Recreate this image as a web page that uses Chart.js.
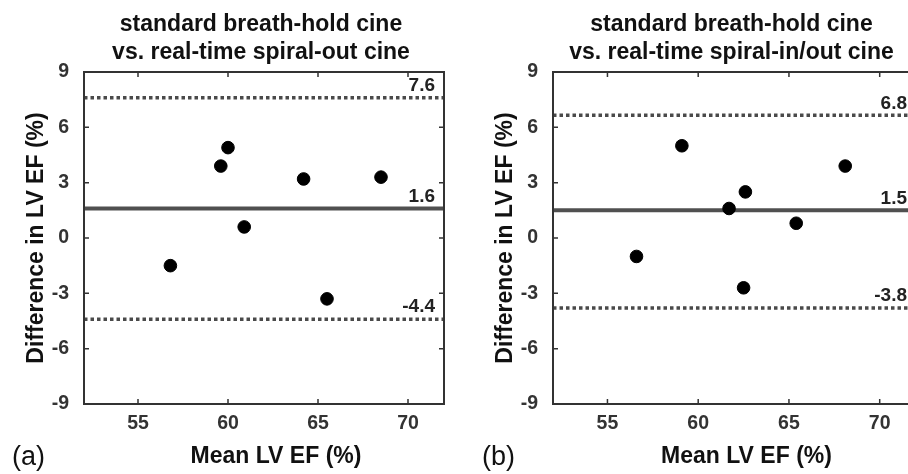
<!DOCTYPE html>
<html>
<head>
<meta charset="utf-8">
<script src="https://cdn.jsdelivr.net/npm/chart.js@4.4.1/dist/chart.umd.min.js"></script>
<style>
  html, body { margin: 0; padding: 0; background: #fff; overflow: hidden; }
  body { width: 908px; height: 474px; position: relative; }
  .panel { position: absolute; top: 0; height: 474px; }
  #panelA { left: 0; width: 454px; }
  #panelB { left: 469px; width: 457px; }
</style>
</head>
<body>
<div class="panel" id="panelA"><canvas id="chartA"></canvas></div>
<div class="panel" id="panelB"><canvas id="chartB"></canvas></div>
<script>
// 데이터
const meanA = [59.6, 60.0, 64.2, 68.5, 60.9, 56.8, 65.5];
const diffA = [3.9, 4.9, 3.2, 3.3, 0.6, -1.5, -3.3];
const linesA = [7.6, 1.6, -4.4];
const lineLabelsA = ['7.6', '1.6', '-4.4'];

const meanB = [59.1, 61.7, 62.6, 65.4, 68.1, 56.6, 62.5];
const diffB = [5.0, 1.6, 2.5, 0.8, 3.9, -1.0, -2.7];
const linesB = [6.65, 1.5, -3.8];
const lineLabelsB = ['6.8', '1.5', '-3.8'];

const xTicks = [55, 60, 65, 70];
const yTicks = [-9, -6, -3, 0, 3, 6, 9];
const xRange = [52, 72];
const yRange = [-9, 9];

const titlesA = ['standard breath-hold cine', 'vs. real-time spiral-out cine'];
const titlesB = ['standard breath-hold cine', 'vs. real-time spiral-in/out cine'];
const xTitle = 'Mean LV EF (%)';
const yTitle = 'Difference in LV EF (%)';

const FONT = "'Liberation Sans', Arial, sans-serif";
const AXIS_COLOR = '#333';

// 제목 + 박스 + 안쪽 눈금 + 라벨
const boxPlugin = {
    id: 'boxTicks',
    afterDraw(chart, args, opts) {
        const {ctx, chartArea: a, scales: {x, y}} = chart;
        ctx.save();
        // 제목 (플롯 영역 기준 가운데)
        ctx.fillStyle = '#111';
        ctx.font = 'bold 23px ' + FONT;
        ctx.textAlign = 'center';
        ctx.textBaseline = 'middle';
        const cx = (a.left + a.right) / 2 - 3;
        ctx.fillText(opts.titles[0], cx, 25);
        ctx.fillText(opts.titles[1], cx, 53);
        // x축 제목
        ctx.fillText(xTitle, (a.left + a.right) / 2 + 12, 457);

        ctx.strokeStyle = AXIS_COLOR;
        ctx.lineWidth = 2;
        ctx.strokeRect(a.left, a.top, a.right - a.left, a.bottom - a.top);
        ctx.lineWidth = 1.5;
        xTicks.forEach(v => {
            const px = x.getPixelForValue(v);
            ctx.beginPath();
            ctx.moveTo(px, a.bottom); ctx.lineTo(px, a.bottom - 5);
            ctx.moveTo(px, a.top); ctx.lineTo(px, a.top + 5);
            ctx.stroke();
        });
        yTicks.forEach(v => {
            const py = y.getPixelForValue(v);
            ctx.beginPath();
            ctx.moveTo(a.left, py); ctx.lineTo(a.left + 5, py);
            ctx.moveTo(a.right, py); ctx.lineTo(a.right - 5, py);
            ctx.stroke();
        });
        // 기준선 값 라벨
        ctx.fillStyle = '#222';
        ctx.font = 'bold 19px ' + FONT;
        ctx.textAlign = 'right';
        ctx.textBaseline = 'middle';
        opts.lines.forEach((v, i) => {
            ctx.fillText(opts.labels[i], a.right - 9, y.getPixelForValue(v) - 12);
        });
        // 패널 문자
        ctx.font = '27px ' + FONT;
        ctx.textAlign = 'left';
        ctx.fillStyle = '#111';
        ctx.fillText(opts.tag, opts.tagX, 458);
        ctx.restore();
    }
};

const refLine = (v, dashed) => ({
    type: 'line',
    data: [{x: xRange[0], y: v}, {x: xRange[1], y: v}],
    borderColor: dashed ? '#4a4a4a' : '#505050',
    borderWidth: dashed ? 3.5 : 4,
    borderDash: dashed ? [3.5, 3] : [],
    pointRadius: 0,
    order: 2,
});

const createBlandAltman = (id, means, diffs, lines, lineLabels, titles, tag, tagX) => {
    const ctx = document.getElementById(id).getContext('2d');
    new Chart(ctx, {
        type: 'scatter',
        data: {
            datasets: [
                {
                    data: means.map((m, i) => ({x: m, y: diffs[i]})),
                    backgroundColor: '#000',
                    borderColor: '#000',
                    pointRadius: 6.3,
                    order: 1,
                },
                refLine(lines[0], true),
                refLine(lines[1], false),
                refLine(lines[2], true),
            ],
        },
        plugins: [boxPlugin],
        options: {
            responsive: true,
            maintainAspectRatio: false,
            animation: false,
            layout: {padding: {left: 0, right: 10, top: 72, bottom: 0}},
            plugins: {
                legend: {display: false},
                tooltip: {enabled: false},
                title: {display: false},
                boxTicks: {lines: lines, labels: lineLabels, titles: titles, tag: tag, tagX: tagX},
            },
            scales: {
                x: {
                    type: 'linear',
                    min: xRange[0],
                    max: xRange[1],
                    grid: {display: false},
                    border: {display: false},
                    afterBuildTicks: s => { s.ticks = xTicks.map(v => ({value: v})); },
                    afterFit: s => { s.height = 70; },
                    ticks: {
                        color: '#333',
                        padding: 0,
                        font: {family: FONT, size: 19.5, weight: 'bold'},
                    },
                },
                y: {
                    type: 'linear',
                    min: yRange[0],
                    max: yRange[1],
                    grid: {display: false},
                    border: {display: false},
                    afterBuildTicks: s => { s.ticks = yTicks.map(v => ({value: v})); },
                    afterFit: s => { s.width = 84; },
                    ticks: {
                        color: '#333',
                        padding: 7,
                        font: {family: FONT, size: 19.5, weight: 'bold'},
                    },
                    title: {
                        display: true,
                        text: yTitle,
                        color: '#111',
                        font: {family: FONT, size: 23, weight: 'bold', lineHeight: 1.2},
                        padding: {top: 23, bottom: 0},
                    },
                },
            },
        },
    });
};

createBlandAltman('chartA', meanA, diffA, linesA, lineLabelsA, titlesA, '(a)', 12);
createBlandAltman('chartB', meanB, diffB, linesB, lineLabelsB, titlesB, '(b)', 13);
</script>
</body>
</html>
